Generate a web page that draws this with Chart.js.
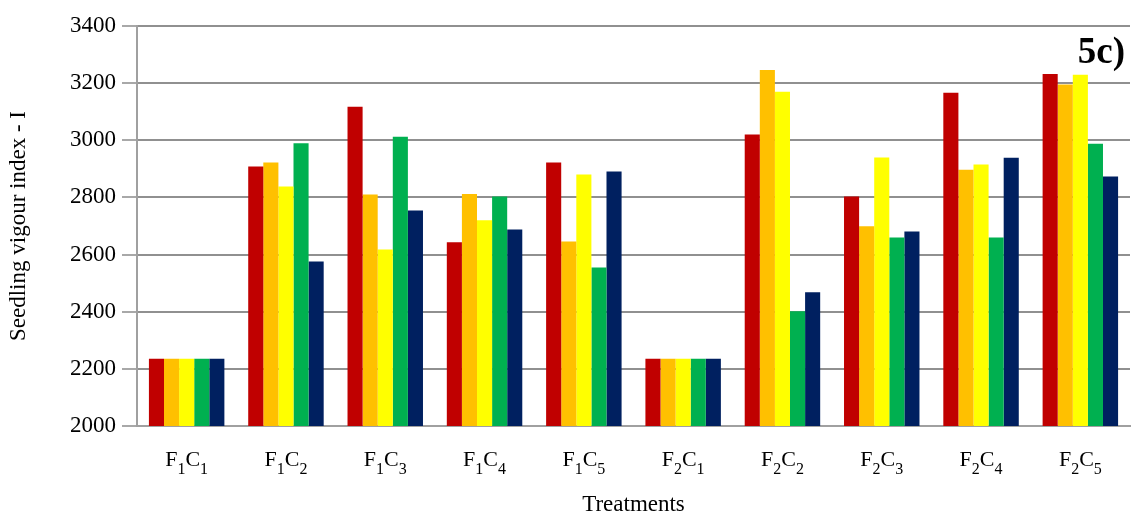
<!DOCTYPE html>
<html>
<head>
    <title>Seedling vigour index - I</title>
    <style>
        body {
            margin: 0;
            background: #fff;
        }
    </style>
    <script src="https://cdn.jsdelivr.net/npm/chart.js"></script>
</head>
<body>
    <canvas id="vigourChart" width="1133" height="516"></canvas>

    <script>
        // Treatments (F = fertiliser level, C = coating) - digits are drawn as subscripts
        const categories = ['F1C1', 'F1C2', 'F1C3', 'F1C4', 'F1C5', 'F2C1', 'F2C2', 'F2C3', 'F2C4', 'F2C5'];

        // Five series per treatment (no legend in the original)
        const series1 = [2235, 2908, 3117, 2643, 2922, 2235, 3020, 2803, 3166, 3232];
        const series2 = [2235, 2922, 2810, 2812, 2646, 2235, 3246, 2699, 2897, 3195];
        const series3 = [2235, 2838, 2618, 2720, 2880, 2235, 3170, 2940, 2915, 3229];
        const series4 = [2235, 2990, 3012, 2803, 2555, 2235, 2402, 2660, 2660, 2988];
        const series5 = [2235, 2576, 2754, 2688, 2891, 2235, 2468, 2681, 2939, 2873];

        const seriesNames = ['Series 1', 'Series 2', 'Series 3', 'Series 4', 'Series 5'];
        const seriesColors = ['#c00000', '#ffc000', '#ffff00', '#00b050', '#002060'];

        const yMin = 2000;
        const yMax = 3400;
        const yStep = 200;

        const serif = "'Liberation Serif', 'Times New Roman', serif";

        // Draws the F1C1 style labels with subscript digits under each category
        const subscriptLabels = {
            id: 'subscriptLabels',
            afterDraw(chart) {
                const ctx = chart.ctx;
                const xScale = chart.scales.x;
                const baseY = 466;
                const bigFont = '22px ' + serif;
                const smallFont = '16px ' + serif;
                ctx.save();
                ctx.fillStyle = '#000';
                ctx.textBaseline = 'alphabetic';
                ctx.textAlign = 'left';
                categories.forEach((label, i) => {
                    const parts = label.split('');
                    let width = 0;
                    parts.forEach(ch => {
                        ctx.font = /\d/.test(ch) ? smallFont : bigFont;
                        width += ctx.measureText(ch).width;
                    });
                    let x = xScale.getPixelForValue(i) - width / 2;
                    parts.forEach(ch => {
                        const isDigit = /\d/.test(ch);
                        ctx.font = isDigit ? smallFont : bigFont;
                        ctx.fillText(ch, x, isDigit ? baseY + 8 : baseY);
                        x += ctx.measureText(ch).width;
                    });
                });
                // panel tag
                ctx.font = 'bold 37px ' + serif;
                ctx.textAlign = 'right';
                ctx.fillText('5c)', 1125, 63);
                ctx.restore();
            }
        };

        const allSeries = [series1, series2, series3, series4, series5];

        const ctx = document.getElementById('vigourChart').getContext('2d');
        const vigourChart = new Chart(ctx, {
            type: 'bar',
            data: {
                labels: categories,
                datasets: allSeries.map((values, i) => ({
                    label: seriesNames[i],
                    data: values,
                    backgroundColor: seriesColors[i],
                    borderWidth: 0
                }))
            },
            options: {
                responsive: false,
                animation: false,
                categoryPercentage: 0.76,
                barPercentage: 1.0,
                layout: {
                    padding: { top: 26, right: 3, left: 0, bottom: 0 }
                },
                plugins: {
                    legend: { display: false },
                    tooltip: { enabled: false }
                },
                scales: {
                    y: {
                        min: yMin,
                        max: yMax,
                        afterFit: scale => { scale.width = 137; },
                        ticks: {
                            stepSize: yStep,
                            color: '#000',
                            padding: 6,
                            font: { family: serif, size: 23 },
                            callback: value => String(value)
                        },
                        grid: {
                            color: '#909090',
                            lineWidth: 2,
                            tickLength: 15,
                            tickColor: '#a8a8a8',
                            tickWidth: 2
                        },
                        border: { color: '#a0a0a0', width: 2 },
                        title: {
                            display: true,
                            text: 'Seedling vigour index - I',
                            color: '#000',
                            font: { family: serif, size: 23 },
                            padding: { top: 5, bottom: 0 }
                        }
                    },
                    x: {
                        afterFit: scale => { scale.height = 90; },
                        ticks: { display: false },
                        grid: { display: false },
                        border: { color: '#a0a0a0', width: 2 },
                        title: {
                            display: true,
                            text: 'Treatments',
                            color: '#000',
                            font: { family: serif, size: 23 },
                            padding: { top: 0, bottom: -3 }
                        }
                    }
                }
            },
            plugins: [subscriptLabels]
        });
    </script>
</body>
</html>
